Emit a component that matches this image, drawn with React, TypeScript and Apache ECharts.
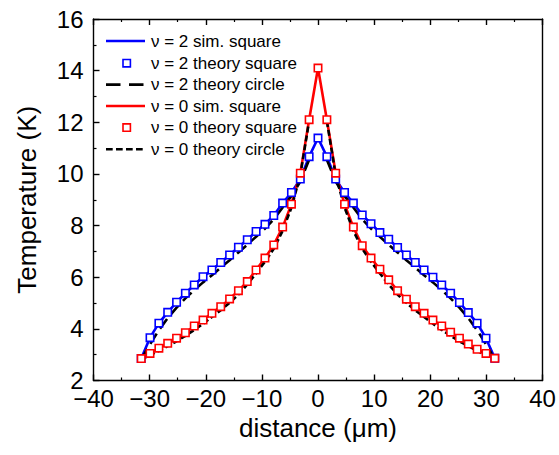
import React, { useEffect, useRef } from "react";
import * as echarts from "echarts";

// distance positions (µm)
const distances = [
  -31.5, -29.93, -28.35, -26.78, -25.2, -23.63, -22.05, -20.48, -18.9, -17.33, -15.75,
  -14.18, -12.6, -11.03, -9.45, -7.88, -6.3, -4.73, -3.15, -1.58, 0,
  1.58, 3.15, 4.73, 6.3, 7.88, 9.45, 11.03, 12.6, 14.18, 15.75,
  17.33, 18.9, 20.48, 22.05, 23.63, 25.2, 26.78, 28.35, 29.93, 31.5,
];

// ν = 2 theory square (K)
const nu2TheorySquare = [
  2.85, 3.66, 4.22, 4.64, 5.03, 5.38, 5.70, 6.02, 6.28, 6.57, 6.86,
  7.16, 7.45, 7.77, 8.05, 8.39, 8.87, 9.28, 9.80, 10.67, 11.39,
  10.67, 9.80, 9.28, 8.87, 8.41, 8.07, 7.73, 7.47, 7.15, 6.86,
  6.57, 6.28, 6.00, 5.70, 5.38, 5.02, 4.63, 4.22, 3.64, 2.86,
];
// ν = 2 sim. square (K)
const nu2SimSquare = [
  2.85, 3.66, 4.22, 4.64, 5.03, 5.38, 5.70, 6.02, 6.28, 6.57, 6.86,
  7.16, 7.45, 7.77, 8.05, 8.39, 8.87, 9.28, 9.80, 10.67, 11.39,
  10.67, 9.80, 9.28, 8.87, 8.41, 8.07, 7.73, 7.47, 7.15, 6.86,
  6.57, 6.28, 6.00, 5.70, 5.38, 5.02, 4.63, 4.22, 3.64, 2.86,
];
// ν = 2 theory circle (K)
const nu2TheoryCircle = [
  2.82, 3.40, 3.95, 4.42, 4.82, 5.18, 5.50, 5.80, 6.08, 6.37, 6.66,
  6.96, 7.26, 7.57, 7.88, 8.24, 8.70, 9.15, 9.70, 10.55, null,
  10.55, 9.70, 9.15, 8.70, 8.24, 7.88, 7.57, 7.26, 6.96, 6.66,
  6.37, 6.08, 5.80, 5.50, 5.18, 4.82, 4.42, 3.95, 3.40, 2.82,
];

// ν = 0 theory square (K)
const nu0TheorySquare = [
  2.85, 3.05, 3.25, 3.44, 3.64, 3.85, 4.11, 4.34, 4.60, 4.86, 5.16,
  5.48, 5.83, 6.28, 6.74, 7.25, 7.94, 8.83, 10.03, 12.10, 14.10,
  12.10, 10.03, 8.83, 7.94, 7.22, 6.74, 6.31, 5.90, 5.48, 5.15,
  4.86, 4.60, 4.34, 4.11, 3.87, 3.64, 3.41, 3.21, 3.05, 2.86,
];
// ν = 0 sim. square (K)
const nu0SimSquare = [
  2.85, 3.05, 3.25, 3.44, 3.64, 3.85, 4.11, 4.34, 4.60, 4.86, 5.16,
  5.48, 5.83, 6.28, 6.74, 7.25, 7.94, 8.83, 10.03, 12.10, 14.10,
  12.10, 10.03, 8.83, 7.94, 7.22, 6.74, 6.31, 5.90, 5.48, 5.15,
  4.86, 4.60, 4.34, 4.11, 3.87, 3.64, 3.41, 3.21, 3.05, 2.86,
];
// ν = 0 theory circle (K)
const nu0TheoryCircle = [
  2.82, 2.98, 3.15, 3.33, 3.52, 3.73, 3.96, 4.20, 4.46, 4.72, 5.01,
  5.33, 5.72, 6.15, 6.60, 7.10, 7.80, 8.70, 9.95, 12.05, null,
  12.05, 9.95, 8.70, 7.80, 7.10, 6.60, 6.15, 5.72, 5.33, 5.01,
  4.72, 4.46, 4.20, 3.96, 3.73, 3.52, 3.33, 3.15, 2.98, 2.82,
];

const legendItems = [
  { label: "ν = 2 sim. square", color: "#0000ff", kind: "line", dash: null },
  { label: "ν = 2 theory square", color: "#0000ff", kind: "square", dash: null },
  { label: "ν = 2 theory circle", color: "#000000", kind: "line", dash: [14.5, 8.5] },
  { label: "ν = 0 sim. square", color: "#ff0000", kind: "line", dash: null },
  { label: "ν = 0 theory square", color: "#ff0000", kind: "square", dash: null },
  { label: "ν = 0 theory circle", color: "#000000", kind: "line", dash: [6.7, 3.3] },
];

const FONT = "'Liberation Sans', Arial, Helvetica, sans-serif";

const pair = (ys: (number | null)[]) => distances.map((x, i) => [x, ys[i]]);
const minusFmt = (v: number) => String(v).replace("-", "\u2212");

export default function App() {
  const ref = useRef<HTMLDivElement>(null);
  useEffect(() => {
    if (!ref.current) return;
    const chart = echarts.init(ref.current, null, { renderer: "svg" });

    const legendGraphics: any[] = [];
    const rowY = [41, 63.2, 84.6, 106, 127.6, 149.2];
    legendItems.forEach((it, i) => {
      const y = rowY[i];
      if (it.kind === "line") {
        legendGraphics.push({
          type: "line",
          shape: { x1: 106, y1: y, x2: 145, y2: y },
          style: { stroke: it.color, lineWidth: 2.6, lineDash: it.dash || undefined },
          z: 100,
        });
      } else {
        legendGraphics.push({
          type: "rect",
          shape: { x: 126.7 - 3.7, y: y - 3.7, width: 7.4, height: 7.4 },
          style: { fill: "#ffffff", stroke: it.color, lineWidth: 1.6 },
          z: 100,
        });
      }
      legendGraphics.push({
        type: "text",
        x: 151,
        y: y,
        style: {
          text: it.label,
          fill: "#000",
          font: `17px ${FONT}`,
          verticalAlign: "middle",
          align: "left",
        },
        z: 100,
      });
    });

    const lineSeries = (name: string, data: any, color: string, dash: any, width: number) => ({
      name,
      type: "line",
      data,
      symbol: "none",
      connectNulls: false,
      lineStyle: { color, width, type: dash || "solid" },
      itemStyle: { color },
      z: 2,
    });
    const squareSeries = (name: string, data: any, color: string) => ({
      name,
      type: "scatter",
      data,
      symbol: "rect",
      symbolSize: 7.4,
      itemStyle: { color: "#ffffff", borderColor: color, borderWidth: 1.6, opacity: 1 },
      z: 3,
    });

    chart.setOption({
      animation: false,
      backgroundColor: "#ffffff",
      textStyle: { fontFamily: FONT },
      grid: { left: 93.5, right: 16.5, top: 19, bottom: 74.5, containLabel: false },
      xAxis: [
        {
          type: "value",
          min: -40,
          max: 40,
          interval: 10,
          position: "bottom",
          name: "distance (μm)",
          nameLocation: "middle",
          nameGap: 33,
          nameTextStyle: { fontSize: 26, color: "#000", fontFamily: FONT },
          axisLine: { show: true, onZero: false, lineStyle: { color: "#000", width: 1.4 } },
          axisTick: { show: true, inside: true, length: 6, lineStyle: { color: "#000", width: 1.4 } },
          minorTick: { show: true, splitNumber: 2, length: 3, lineStyle: { color: "#000", width: 1.2 } },
          axisLabel: { fontSize: 24, color: "#000", margin: 6, fontFamily: FONT, formatter: minusFmt },
          splitLine: { show: false },
        },
        {
          type: "value",
          min: -40,
          max: 40,
          interval: 10,
          position: "top",
          axisLine: { show: true, onZero: false, lineStyle: { color: "#000", width: 1.4 } },
          axisTick: { show: true, inside: true, length: 6, lineStyle: { color: "#000", width: 1.4 } },
          minorTick: { show: true, splitNumber: 2, length: 3, lineStyle: { color: "#000", width: 1.2 } },
          axisLabel: { show: false },
          splitLine: { show: false },
        },
      ],
      yAxis: [
        {
          type: "value",
          min: 2,
          max: 16,
          interval: 2,
          position: "left",
          name: "Temperature (K)",
          nameLocation: "middle",
          nameGap: 54,
          nameTextStyle: { fontSize: 26, color: "#000", fontFamily: FONT },
          axisLine: { show: true, onZero: false, lineStyle: { color: "#000", width: 1.4 } },
          axisTick: { show: true, inside: true, length: 6, lineStyle: { color: "#000", width: 1.4 } },
          minorTick: { show: true, splitNumber: 2, length: 3, lineStyle: { color: "#000", width: 1.2 } },
          axisLabel: { fontSize: 24, color: "#000", margin: 10, fontFamily: FONT },
          splitLine: { show: false },
        },
        {
          type: "value",
          min: 2,
          max: 16,
          interval: 2,
          position: "right",
          axisLine: { show: true, onZero: false, lineStyle: { color: "#000", width: 1.4 } },
          axisTick: { show: false },
          minorTick: { show: false },
          axisLabel: { show: false },
          splitLine: { show: false },
        },
      ],
      series: [
        lineSeries("ν = 2 sim. square", pair(nu2SimSquare), "#0000ff", null, 2.6),
        lineSeries("ν = 0 sim. square", pair(nu0SimSquare), "#ff0000", null, 2.6),
        lineSeries("ν = 2 theory circle", pair(nu2TheoryCircle), "#000000", [12, 6], 2.6),
        lineSeries("ν = 0 theory circle", pair(nu0TheoryCircle), "#000000", [6, 3], 2.6),
        squareSeries("ν = 2 theory square", pair(nu2TheorySquare), "#0000ff"),
        squareSeries("ν = 0 theory square", pair(nu0TheorySquare), "#ff0000"),
      ],
      graphic: legendGraphics,
    });
    return () => chart.dispose();
  }, []);
  return (
    <div
      ref={ref}
      style={{ position: "fixed", left: 0, top: 0, width: 559, height: 455, background: "#fff" }}
    />
  );
}
